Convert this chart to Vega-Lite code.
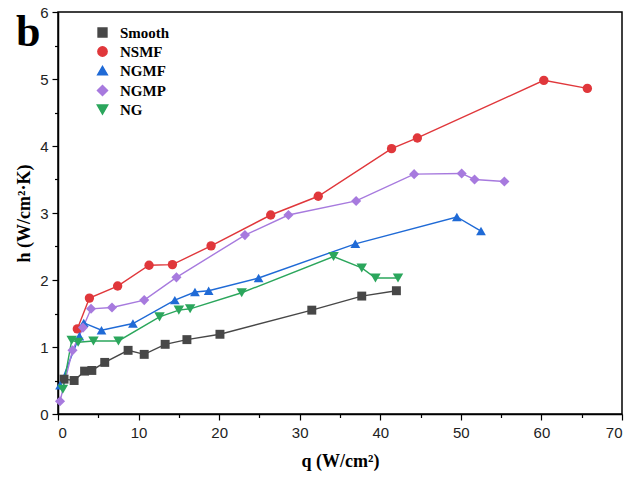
{
  "$schema": "https://vega.github.io/schema/vega-lite/v6.json",
  "autosize": {"type": "none"},
  "padding": {"left": 58, "top": 12, "right": 10, "bottom": 71},
  "width": 564,
  "height": 402,
  "title": {"text": "b", "anchor": "start", "frame": "group", "font": "Liberation Serif", "fontSize": 44, "fontWeight": "bold", "color": "#000", "offset": -50, "dx": -42},
  "config": {
    "view": {"stroke": "#000", "strokeWidth": 1.5},
    "axis": {"grid": false, "domainColor": "#000", "domainWidth": 1.5, "tickColor": "#000", "tickWidth": 1.2, "labelFont": "Liberation Sans", "labelFontSize": 15, "labelColor": "#222", "titleFont": "Liberation Serif", "titleFontWeight": "bold", "titleFontSize": 18, "titleColor": "#000"},
    "legend": {"title": null, "orient": "top-left", "offset": 13, "padding": 0, "symbolOffset": 24, "symbolSize": 100, "rowPadding": 3, "labelOffset": 10, "labelFont": "Liberation Serif", "labelFontWeight": "bold", "labelFontSize": 15, "labelColor": "#000"}
  },
  "data": {"values": [
    {"s":"Smooth","i":1,"q":0.75,"h":0.52},{"s":"Smooth","i":2,"q":2.0,"h":0.50},{"s":"Smooth","i":3,"q":3.3,"h":0.64},{"s":"Smooth","i":4,"q":4.2,"h":0.65},{"s":"Smooth","i":5,"q":5.8,"h":0.77},{"s":"Smooth","i":6,"q":8.7,"h":0.95},{"s":"Smooth","i":7,"q":10.7,"h":0.89},{"s":"Smooth","i":8,"q":13.3,"h":1.04},{"s":"Smooth","i":9,"q":16.0,"h":1.11},{"s":"Smooth","i":10,"q":20.1,"h":1.19},{"s":"Smooth","i":11,"q":31.5,"h":1.55},{"s":"Smooth","i":12,"q":37.7,"h":1.76},{"s":"Smooth","i":13,"q":42.0,"h":1.84},
    {"s":"NSMF","i":1,"q":2.4,"h":1.27},{"s":"NSMF","i":2,"q":3.9,"h":1.73},{"s":"NSMF","i":3,"q":7.4,"h":1.91},{"s":"NSMF","i":4,"q":11.3,"h":2.22},{"s":"NSMF","i":5,"q":14.2,"h":2.23},{"s":"NSMF","i":6,"q":19.0,"h":2.51},{"s":"NSMF","i":7,"q":26.4,"h":2.97},{"s":"NSMF","i":8,"q":32.3,"h":3.25},{"s":"NSMF","i":9,"q":41.4,"h":3.96},{"s":"NSMF","i":10,"q":44.6,"h":4.12},{"s":"NSMF","i":11,"q":60.3,"h":4.98},{"s":"NSMF","i":12,"q":65.7,"h":4.86},
    {"s":"NGMF","i":1,"q":0.25,"h":0.43},{"s":"NGMF","i":2,"q":2.65,"h":1.16},{"s":"NGMF","i":3,"q":3.2,"h":1.36},{"s":"NGMF","i":4,"q":5.4,"h":1.25},{"s":"NGMF","i":5,"q":9.3,"h":1.35},{"s":"NGMF","i":6,"q":14.5,"h":1.70},{"s":"NGMF","i":7,"q":17.0,"h":1.82},{"s":"NGMF","i":8,"q":18.7,"h":1.84},{"s":"NGMF","i":9,"q":24.9,"h":2.03},{"s":"NGMF","i":10,"q":36.9,"h":2.54},{"s":"NGMF","i":11,"q":49.5,"h":2.94},{"s":"NGMF","i":12,"q":52.5,"h":2.73},
    {"s":"NGMP","i":1,"q":0.25,"h":0.19},{"s":"NGMP","i":2,"q":1.8,"h":0.95},{"s":"NGMP","i":3,"q":3.1,"h":1.29},{"s":"NGMP","i":4,"q":4.1,"h":1.57},{"s":"NGMP","i":5,"q":6.7,"h":1.59},{"s":"NGMP","i":6,"q":10.7,"h":1.70},{"s":"NGMP","i":7,"q":14.7,"h":2.04},{"s":"NGMP","i":8,"q":23.2,"h":2.67},{"s":"NGMP","i":9,"q":28.6,"h":2.97},{"s":"NGMP","i":10,"q":37.0,"h":3.18},{"s":"NGMP","i":11,"q":44.2,"h":3.58},{"s":"NGMP","i":12,"q":50.1,"h":3.59},{"s":"NGMP","i":13,"q":51.7,"h":3.50},{"s":"NGMP","i":14,"q":55.4,"h":3.47},
    {"s":"NG","i":1,"q":0.6,"h":0.37},{"s":"NG","i":2,"q":1.7,"h":1.10},{"s":"NG","i":3,"q":2.5,"h":1.07},{"s":"NG","i":4,"q":4.4,"h":1.09},{"s":"NG","i":5,"q":7.5,"h":1.09},{"s":"NG","i":6,"q":12.6,"h":1.45},{"s":"NG","i":7,"q":15.0,"h":1.55},{"s":"NG","i":8,"q":16.4,"h":1.57},{"s":"NG","i":9,"q":22.8,"h":1.81},{"s":"NG","i":10,"q":34.2,"h":2.35},{"s":"NG","i":11,"q":37.7,"h":2.18},{"s":"NG","i":12,"q":39.4,"h":2.03},{"s":"NG","i":13,"q":42.2,"h":2.03}
  ]},
  "encoding": {
    "x": {"field": "q", "type": "quantitative", "scale": {"domain": [0, 70], "nice": false, "zero": false},
          "axis": {"values": [0,5,10,15,20,25,30,35,40,45,50,55,60,65,70],
                   "labelExpr": "datum.value % 10 === 0 ? format(datum.value, 'd') : ''",
                   "tickSize": {"condition": {"test": "datum.value % 10 === 0", "value": 6}, "value": 3.5},
                   "labelPadding": 5, "title": "q (W/cm²)", "titlePadding": 12}},
    "y": {"field": "h", "type": "quantitative", "scale": {"domain": [0, 6], "nice": false},
          "axis": {"values": [0,0.5,1,1.5,2,2.5,3,3.5,4,4.5,5,5.5,6],
                   "labelExpr": "datum.value % 1 === 0 ? format(datum.value, 'd') : ''",
                   "tickSize": {"condition": {"test": "datum.value % 1 === 0", "value": 6}, "value": 3.5},
                   "labelPadding": 4, "title": "h (W/cm²·K)", "titlePadding": 6}},
    "color": {"field": "s", "type": "nominal",
              "scale": {"domain": ["Smooth","NSMF","NGMF","NGMP","NG"], "range": ["#474747","#e0373b","#1f6ad6","#a77ade","#2ba65c"]},
              "legend": {"encode": {"symbols": {"update": {
                           "shape": {"signal": "datum.value === 'Smooth' ? 'M-3.6,0H3.6M-0.9,-0.9H0.9V0.9H-0.9Z' : datum.value === 'NSMF' ? 'M-3.6,0H3.6M-1,0A1,1,0,1,0,1,0A1,1,0,1,0,-1,0Z' : datum.value === 'NGMF' ? 'M-3.6,0H3.6M0,-1.1L1.15,0.85L-1.15,0.85Z' : datum.value === 'NGMP' ? 'M-3.6,0H3.6M-1.15,0L0,-1.1L1.15,0L0,1.1Z' : 'M-3.6,0H3.6M0,1.1L1.15,-0.85L-1.15,-0.85Z'"},
                           "stroke": {"scale": "color", "field": "value"},
                           "strokeWidth": {"value": 1.4},
                           "opacity": {"value": 1}
                         }}}}}
  },
  "layer": [
    {
      "mark": {"type": "line", "strokeWidth": 1.4},
      "encoding": {
        "order": {"field": "i", "type": "quantitative"}
      }
    },
    {
      "mark": {"type": "point", "filled": true, "opacity": 1},
      "encoding": {
        "shape": {"field": "s", "type": "nominal",
                  "scale": {"domain": ["Smooth","NSMF","NGMF","NGMP","NG"], "range": ["square","circle","triangle-up","diamond","triangle-down"]},
                  "legend": {"encode": {"symbols": {"update": {
                           "shape": {"signal": "datum.value === 'Smooth' ? 'M-3.6,0H3.6M-0.9,-0.9H0.9V0.9H-0.9Z' : datum.value === 'NSMF' ? 'M-3.6,0H3.6M-1,0A1,1,0,1,0,1,0A1,1,0,1,0,-1,0Z' : datum.value === 'NGMF' ? 'M-3.6,0H3.6M0,-1.1L1.15,0.85L-1.15,0.85Z' : datum.value === 'NGMP' ? 'M-3.6,0H3.6M-1.15,0L0,-1.1L1.15,0L0,1.1Z' : 'M-3.6,0H3.6M0,1.1L1.15,-0.85L-1.15,-0.85Z'"},
                           "stroke": {"scale": "color", "field": "value"},
                           "strokeWidth": {"value": 1.4},
                           "opacity": {"value": 1}
                         }}}}},
        "size": {"field": "s", "type": "nominal", "legend": null,
                 "scale": {"domain": ["Smooth","NSMF","NGMF","NGMP","NG"], "range": [80, 110, 150, 140, 150]}}
      }
    }
  ]
}
